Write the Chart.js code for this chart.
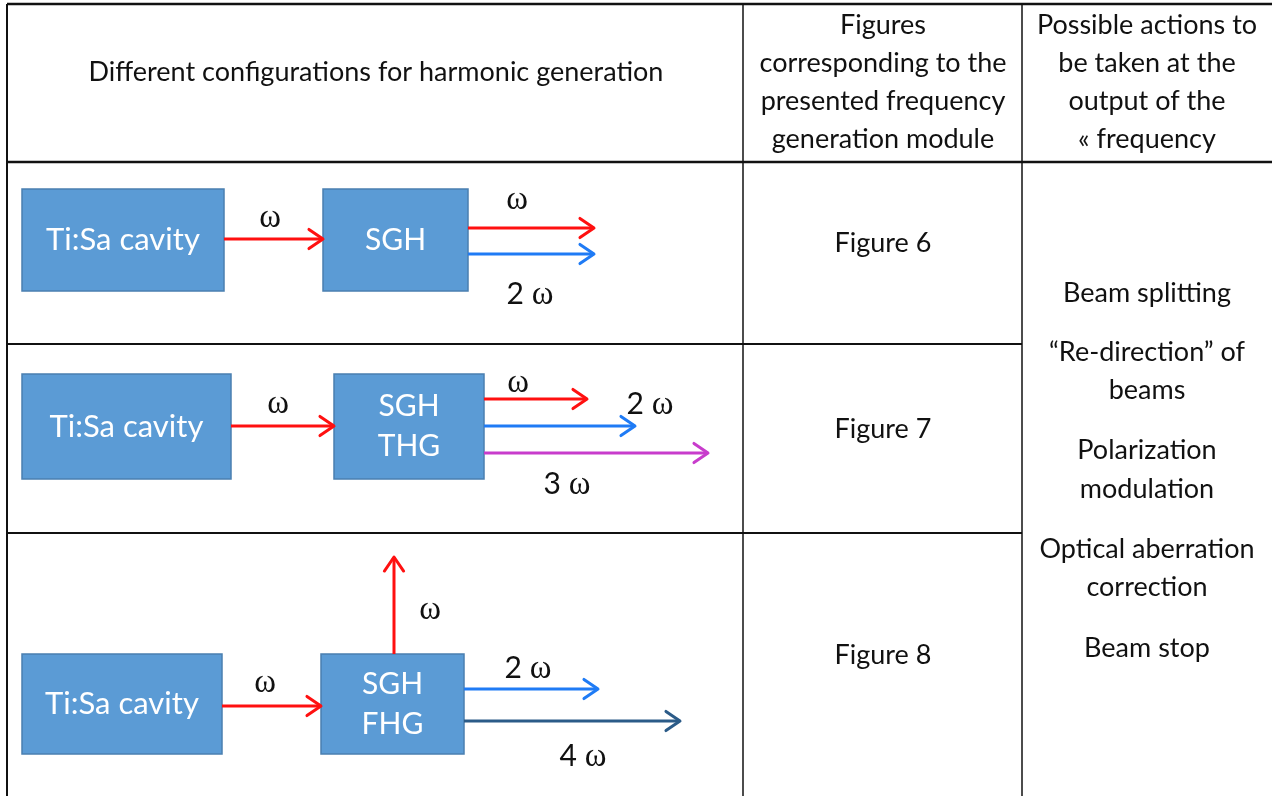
<!DOCTYPE html>
<html>
<head>
<meta charset="utf-8">
<script src="https://cdn.jsdelivr.net/npm/chart.js@4.4.1/dist/chart.umd.min.js"></script>
<style>
  html, body { margin: 0; background: #fff; }
  #wrap { width: 1272px; height: 796px; }
</style>
</head>
<body>
<div id="wrap"><canvas id="harmonic-table" width="1272" height="796"></canvas></div>
<script>
// all coordinates are in diagram units (same as page px, y grows downwards)

// table rules: [x0, y0, x1, y1, width]
const tableRules = [
  [7, 4, 1272, 4, 2.5],
  [7, 162, 1272, 162, 2.5],
  [7, 344, 1022, 344, 2],
  [7, 533, 1022, 533, 2],
  [7, 4, 7, 796, 2],
  [743, 4, 743, 796, 1.5],
  [1022, 4, 1022, 796, 1.5]
];

// blue module boxes: [x0, y0, x1, y1]
const boxRects = [
  [22, 189, 224, 291], [323, 189, 468, 291],
  [22, 374, 231, 479], [334, 374, 484, 479],
  [22, 654, 222, 754], [321, 654, 464, 754]
];
const boxLabels = [
  ['Ti:Sa cavity'], ['SGH'],
  ['Ti:Sa cavity'], ['SGH', 'THG'],
  ['Ti:Sa cavity'], ['SGH', 'FHG']
];

// beams: start, end, colour
const beamFrom = [
  [224, 239], [468, 228], [468, 254],
  [231, 426], [484, 399], [484, 426], [484, 453],
  [222, 706], [394, 654], [464, 689], [464, 721]
];
const beamTo = [
  [323, 239], [594, 228], [594, 254],
  [334, 426], [587, 399], [635, 426], [708, 453],
  [321, 706], [394, 557], [598, 689], [680, 721]
];
const beamColors = [
  '#ff1010', '#ff1010', '#1f7bf5',
  '#ff1010', '#ff1010', '#1f7bf5', '#c83ccc',
  '#ff1010', '#ff1010', '#1f7bf5', '#2b5b88'
];

// frequency labels next to beams
const freqLabels = ['ω', 'ω', '2 ω', 'ω', 'ω', '2 ω', '3 ω', 'ω', 'ω', '2 ω', '4 ω'];
const freqPos = [
  [270, 220], [517, 202], [530, 293],
  [278, 406], [518, 385], [650, 403], [567, 483],
  [265, 685], [430, 612], [528, 667], [583, 755]
];

// text cells
const headerLines = ['Different configurations for harmonic generation'];
const figureHeader = ['Figures', 'corresponding to the', 'presented frequency', 'generation module'];
const actionHeader = ['Possible actions to', 'be taken at the', 'output of the', '« frequency'];
const figureNames = ['Figure 6', 'Figure 7', 'Figure 8'];
const figureY = [243, 429, 655];
const actionLines = ['Beam splitting', '“Re-direction” of', 'beams', 'Polarization', 'modulation',
  'Optical aberration', 'correction', 'Beam stop'];
const actionY = [293, 352, 390, 450, 489, 549, 587, 648];

const SANS = 'Lato, "Open Sans", sans-serif';
const SERIF = '"Liberation Serif", "DejaVu Serif", serif';

const beamDatasets = beamFrom.map((p, i) => ({
  data: [{ x: p[0], y: p[1] }, { x: beamTo[i][0], y: beamTo[i][1] }],
  borderColor: beamColors[i],
  borderWidth: 3,
  showLine: true,
  pointRadius: 0,
  fill: false
}));

const diagramPlugin = {
  id: 'diagram',
  beforeDatasetsDraw(chart) {
    const { ctx, scales: { x, y } } = chart;
    const px = v => x.getPixelForValue(v);
    const py = v => y.getPixelForValue(v);
    ctx.save();
    ctx.fillStyle = '#fff';
    ctx.fillRect(0, 0, chart.width, chart.height);

    // blue boxes
    boxRects.forEach((r, i) => {
      const x0 = px(r[0]), y0 = py(r[1]), x1 = px(r[2]), y1 = py(r[3]);
      ctx.fillStyle = '#5b9bd5';
      ctx.fillRect(x0, y0, x1 - x0, y1 - y0);
      ctx.strokeStyle = '#4a7fb0';
      ctx.lineWidth = 1.5;
      ctx.strokeRect(x0, y0, x1 - x0, y1 - y0);
      const lines = boxLabels[i];
      const size = lines[0] === 'Ti:Sa cavity' ? 31 : 30;
      ctx.fillStyle = '#fff';
      ctx.font = size + 'px ' + SANS;
      ctx.textAlign = 'center';
      ctx.textBaseline = 'middle';
      const cx = (x0 + x1) / 2, cy = (y0 + y1) / 2;
      const gap = 40;
      lines.forEach((t, k) => {
        ctx.fillText(t, cx, cy + (k - (lines.length - 1) / 2) * gap);
      });
    });

    // table rules
    ctx.strokeStyle = '#111';
    tableRules.forEach(r => {
      ctx.lineWidth = r[4];
      ctx.beginPath();
      ctx.moveTo(px(r[0]), py(r[1]));
      ctx.lineTo(px(r[2]), py(r[3]));
      ctx.stroke();
    });
    ctx.restore();
  },
  afterDatasetsDraw(chart) {
    const { ctx, scales: { x, y } } = chart;
    const px = v => x.getPixelForValue(v);
    const py = v => y.getPixelForValue(v);
    ctx.save();

    // open arrow heads
    beamTo.forEach((t, i) => {
      const f = beamFrom[i];
      const tx = px(t[0]), ty = py(t[1]);
      const a = Math.atan2(ty - py(f[1]), tx - px(f[0]));
      const len = 17, spread = 0.6;
      ctx.strokeStyle = beamColors[i];
      ctx.lineWidth = 3;
      ctx.lineCap = 'round';
      ctx.lineJoin = 'round';
      ctx.beginPath();
      ctx.moveTo(tx - len * Math.cos(a - spread), ty - len * Math.sin(a - spread));
      ctx.lineTo(tx, ty);
      ctx.lineTo(tx - len * Math.cos(a + spread), ty - len * Math.sin(a + spread));
      ctx.stroke();
    });

    // frequency labels: digit in sans, omega in serif
    ctx.fillStyle = '#111';
    ctx.textBaseline = 'alphabetic';
    ctx.textAlign = 'left';
    freqLabels.forEach((lab, i) => {
      const parts = lab.split(' ');
      const pieces = [];
      if (parts.length > 1) {
        pieces.push({ t: parts[0] + ' ', font: '30px ' + SANS });
      }
      pieces.push({ t: 'ω', font: '33px ' + SERIF });
      let w = 0;
      pieces.forEach(p => { ctx.font = p.font; p.w = ctx.measureText(p.t).width; w += p.w; });
      let cx = px(freqPos[i][0]) - w / 2;
      const base = py(freqPos[i][1]) + 7;
      const yOff = parts.length > 1 ? 4 : 0;
      pieces.forEach(p => {
        ctx.font = p.font;
        ctx.fillText(p.t, cx, base + yOff);
        cx += p.w;
      });
    });

    // cell texts
    ctx.textAlign = 'center';
    ctx.textBaseline = 'middle';
    ctx.font = '27px ' + SANS;
    ctx.fillText(headerLines[0], px(376), py(72));
    figureHeader.forEach((t, k) => ctx.fillText(t, px(883), py(25 + k * 38)));
    actionHeader.forEach((t, k) => ctx.fillText(t, px(1147), py(25 + k * 38)));
    figureNames.forEach((t, k) => ctx.fillText(t, px(883), py(figureY[k])));
    actionLines.forEach((t, k) => ctx.fillText(t, px(1147), py(actionY[k])));
    ctx.restore();
  }
};

new Chart(document.getElementById('harmonic-table'), {
  type: 'scatter',
  data: { datasets: beamDatasets },
  options: {
    responsive: false,
    animation: false,
    events: [],
    layout: { padding: 0 },
    plugins: { legend: { display: false }, tooltip: { enabled: false } },
    scales: {
      x: { type: 'linear', min: 0, max: 1272, display: false },
      y: { type: 'linear', min: 0, max: 796, reverse: true, display: false }
    }
  },
  plugins: [diagramPlugin]
});
</script>
</body>
</html>
